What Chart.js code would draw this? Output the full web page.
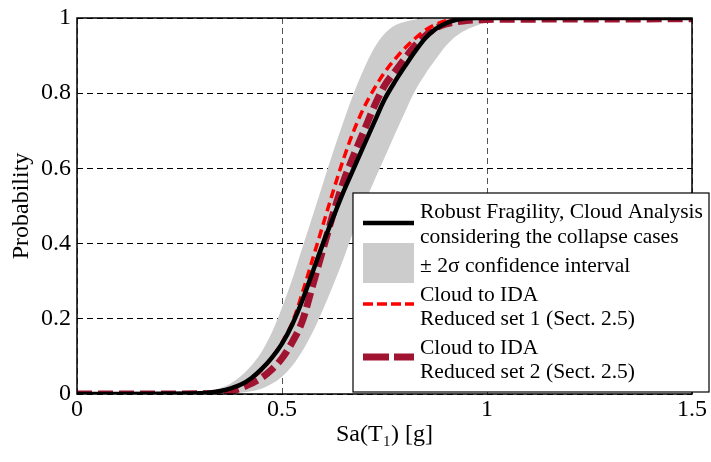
<!DOCTYPE html>
<html>
<head>
<meta charset="utf-8">
<script src="https://cdn.jsdelivr.net/npm/chart.js@4.4.1/dist/chart.umd.min.js"></script>
<style>
html, body { margin: 0; padding: 0; background: #fff; }
#wrap { width: 711px; height: 462px; }
</style>
</head>
<body>
<div id="wrap"><canvas id="fragilityChart" width="711" height="462"></canvas></div>
<script>
// Sa(T1) [g] sample points
const sa = [0, 0.30, 0.325, 0.35, 0.375, 0.40, 0.425, 0.45, 0.475, 0.50, 0.525, 0.55, 0.575, 0.60, 0.625, 0.65, 0.675,
    0.70, 0.725, 0.75, 0.775, 0.80, 0.825, 0.85, 0.875, 0.90, 0.925, 0.95, 0.975, 1.00, 1.05, 1.10, 1.50];

// robust fragility, cloud analysis with collapse cases
const robust = [0, 0.002, 0.004, 0.008, 0.015, 0.025, 0.042, 0.066, 0.096, 0.134, 0.185, 0.25, 0.325, 0.40, 0.47, 0.538, 0.60,
    0.662, 0.723, 0.783, 0.83, 0.872, 0.912, 0.947, 0.971, 0.986, 0.995, 0.999, 1, 1, 1, 1, 1];

// +/- 2 sigma band edges
const bandUpper = [0, 0.003, 0.008, 0.016, 0.028, 0.048, 0.075, 0.112, 0.163, 0.23, 0.305, 0.39, 0.475, 0.56, 0.645, 0.725, 0.80,
    0.865, 0.92, 0.958, 0.98, 0.99, 0.996, 1, 1, 1, 1, 1, 1, 1, 1, 1, 1];
const bandLower = [0, 0, 0, 0, 0.001, 0.003, 0.007, 0.014, 0.027, 0.046, 0.075, 0.115, 0.165, 0.225, 0.29, 0.36, 0.435,
    0.503, 0.567, 0.628, 0.69, 0.75, 0.807, 0.852, 0.89, 0.926, 0.952, 0.969, 0.98, 0.99, 0.998, 1, 1];

// cloud to IDA, reduced sets
const set1 = [0, 0.001, 0.003, 0.007, 0.013, 0.024, 0.040, 0.064, 0.096, 0.137, 0.19, 0.27, 0.36, 0.45, 0.54, 0.625, 0.70,
    0.762, 0.812, 0.855, 0.89, 0.92, 0.946, 0.968, 0.983, 0.993, 0.998, 1, 1, 1, 1, 1, 1];
const set2 = [0, 0.0005, 0.001, 0.003, 0.007, 0.016, 0.028, 0.043, 0.065, 0.095, 0.138, 0.195, 0.29, 0.385, 0.48, 0.565, 0.635,
    0.70, 0.765, 0.82, 0.857, 0.893, 0.927, 0.953, 0.973, 0.984, 0.99, 0.993, 0.995, 0.996, 0.997, 0.997, 0.998];

// tick labels
const xTickLabels = ['0', '0.5', '1', '1.5'];
const yTickLabels = ['0', '0.2', '0.4', '0.6', '0.8', '1'];

const legendText = [
    ['Robust Fragility, Cloud Analysis', 'considering the collapse cases'],
    ['\u00B1 2\u03C3 confidence interval'],
    ['Cloud to IDA', 'Reduced set 1 (Sect. 2.5)'],
    ['Cloud to IDA', 'Reduced set 2 (Sect. 2.5)']
];

const serif = "'Liberation Serif', 'Times New Roman', serif";
Chart.defaults.font.family = serif;
Chart.defaults.color = '#000';

const pts = (ys) => sa.map((x, i) => ({ x: x, y: ys[i] }));

// box round the plot area
const framePlugin = {
    id: 'frame',
    afterDatasetsDraw(chart) {
        const a = chart.chartArea;
        const c = chart.ctx;
        c.save();
        c.strokeStyle = '#000';
        c.lineWidth = 1.5;
        c.strokeRect(a.left, a.top, a.right - a.left, a.bottom - a.top);
        c.restore();
    }
};

// legend like the matlab one
const boxLegend = {
    id: 'boxLegend',
    afterDraw(chart) {
        const c = chart.ctx;
        const ds = chart.data.datasets;
        c.save();
        c.fillStyle = '#fff';
        c.fillRect(353, 193, 356, 199);
        c.strokeStyle = '#000';
        c.lineWidth = 1.2;
        c.strokeRect(353, 193, 356, 199);

        c.font = '21.5px ' + serif;
        c.fillStyle = '#000';
        c.textBaseline = 'middle';
        c.textAlign = 'left';

        const rows = [
            { ds: 0, y: 223, text: [212, 237] },
            { ds: 3, y: 263, text: [266] },
            { ds: 1, y: 304, text: [295, 319] },
            { ds: 2, y: 357, text: [348, 372] }
        ];
        rows.forEach((r, i) => {
            const d = ds[r.ds];
            if (r.ds === 3) {
                c.fillStyle = d.backgroundColor;
                c.fillRect(363, 243, 51, 40);
            } else {
                c.strokeStyle = d.borderColor;
                c.lineWidth = d.borderWidth;
                c.setLineDash(d.legendDash || []);
                c.beginPath();
                c.moveTo(363, r.y);
                c.lineTo(414, r.y);
                c.stroke();
                c.setLineDash([]);
            }
            c.fillStyle = '#000';
            legendText[i].forEach((t, k) => c.fillText(t, 420, r.text[k]));
        });
        c.restore();
    }
};

const ctx = document.getElementById('fragilityChart').getContext('2d');

new Chart(ctx, {
    type: 'line',
    data: {
        datasets: [
            {
                label: 'Robust Fragility',
                data: pts(robust),
                borderColor: '#000000',
                borderWidth: 4.5,
                pointRadius: 0,
                cubicInterpolationMode: 'monotone',
                fill: false
            },
            {
                label: 'Reduced set 1',
                data: pts(set1),
                borderColor: '#ff0000',
                borderWidth: 3.5,
                borderDash: [9, 5],
                legendDash: [10, 4],
                pointRadius: 0,
                cubicInterpolationMode: 'monotone',
                fill: false
            },
            {
                label: 'Reduced set 2',
                data: pts(set2),
                borderColor: '#a01432',
                borderWidth: 7,
                borderDash: [15, 6],
                legendDash: [26, 5],
                pointRadius: 0,
                cubicInterpolationMode: 'monotone',
                fill: false
            },
            {
                label: 'band upper',
                data: pts(bandUpper),
                borderColor: 'rgba(0,0,0,0)',
                backgroundColor: '#cccccc',
                borderWidth: 0,
                pointRadius: 0,
                cubicInterpolationMode: 'monotone',
                fill: '+1'
            },
            {
                label: 'band lower',
                data: pts(bandLower),
                borderColor: 'rgba(0,0,0,0)',
                borderWidth: 0,
                pointRadius: 0,
                cubicInterpolationMode: 'monotone',
                fill: false
            }
        ]
    },
    options: {
        responsive: false,
        animation: false,
        layout: {
            padding: { left: 0, right: 19, top: 11, bottom: 0 }
        },
        plugins: {
            legend: { display: false },
            tooltip: { enabled: false }
        },
        scales: {
            x: {
                type: 'linear',
                min: 0,
                max: 1.5,
                ticks: {
                    stepSize: 0.5,
                    color: '#000',
                    padding: 4,
                    font: { family: serif, size: 24, lineHeight: 1 },
                    callback: (v, i) => xTickLabels[i]
                },
                grid: { color: '#555', lineWidth: 1, drawTicks: false },
                border: { display: false, dash: [6, 4] },
                title: {
                    display: true,
                    text: 'Sa(T\u2081) [g]',
                    color: '#000',
                    font: { family: serif, size: 24, lineHeight: 1.2 },
                    padding: { top: 0, bottom: 13 }
                },
                afterFit(scale) { scale.height = 68; }
            },
            y: {
                min: 0,
                max: 1,
                ticks: {
                    stepSize: 0.2,
                    color: '#000',
                    padding: 6,
                    font: { family: serif, size: 24, lineHeight: 1 },
                    callback: (v, i) => yTickLabels[i]
                },
                grid: { color: '#000', lineWidth: 1, drawTicks: false },
                border: { display: false, dash: [6, 4] },
                title: {
                    display: true,
                    text: 'Probability',
                    color: '#000',
                    font: { family: serif, size: 24, lineHeight: 1.2 },
                    padding: { top: 7, bottom: 0 }
                },
                afterFit(scale) { scale.width = 77; }
            }
        }
    },
    plugins: [framePlugin, boxLegend]
});
</script>
</body>
</html>
